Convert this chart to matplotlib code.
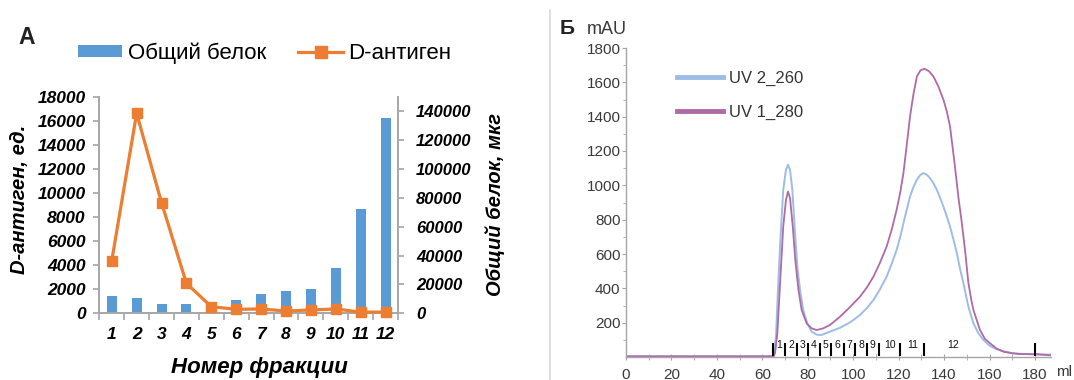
import matplotlib
matplotlib.use("Agg")
import matplotlib.pyplot as plt
from matplotlib.lines import Line2D
from matplotlib.patches import Patch

plt.rcParams["font.family"] = ["Liberation Sans", "DejaVu Sans"]

# ---------------------------------------------------------------------------
# Panel A data: fractions, D-antigen (left axis) and total protein (right axis)
# ---------------------------------------------------------------------------
fractions = [1, 2, 3, 4, 5, 6, 7, 8, 9, 10, 11, 12]
d_antigen = [4370, 16620, 9190, 2490, 550, 330, 360, 190, 280, 360, 100, 100]
total_protein = [12000, 10400, 6450, 6450, 2500, 9400, 13600, 15200, 16800,
                 31600, 72000, 135500]

# ---------------------------------------------------------------------------
# Panel B data: chromatogram (ml, mAU)
# ---------------------------------------------------------------------------
uv260_ml = [0, 64.5, 65.2, 66.0, 67.0, 68.1, 69.2, 70.4, 71.3, 72.2, 73.2, 74.4,
            75.4, 76.6, 78.0, 79.8, 81.7, 83.9, 86.0, 89.8, 94.2, 99.0, 103.0,
            106.0, 108.9, 111.8, 114.7, 117.0, 119.1, 120.7, 122.1, 123.6, 125.0,
            126.5, 128.0, 129.5, 130.9, 132.4, 133.8, 135.3, 136.8, 138.6, 140.4,
            142.6, 144.0, 145.6, 147.0, 148.5, 149.6, 150.7, 152.0, 152.9, 155.0,
            157.3, 160.0, 163.2, 166.5, 170.5, 175.0, 179.3, 186.6]
uv260_mau = [4, 4, 30, 118, 430, 721, 974, 1090, 1120, 1090, 974, 721,
             527, 391, 274, 196, 148, 130, 128, 148, 170, 205, 245,
             285, 332, 395, 468, 545, 624, 700, 780, 860, 935,
             990, 1032, 1060, 1071, 1062, 1042, 1012, 974, 915, 850,
             760, 690, 605, 515, 430, 360, 293, 235, 196, 140,
             99, 66, 45, 32, 21, 18, 16, 14]

uv280_ml = [0, 65.0, 65.6, 66.6, 67.8, 69.2, 70.4, 71.3, 72.2, 73.4, 74.5, 75.9,
            77.3, 79.5, 81.7, 83.9, 86.8, 89.8, 94.2, 98.5, 103.0, 106.0, 108.9,
            111.8, 114.7, 117.0, 119.1, 120.7, 122.1, 123.6, 125.0, 126.5, 128.0,
            129.6, 131.3, 133.3, 135.3, 137.5, 139.7, 141.2, 142.6, 144.5, 146.3,
            147.7, 149.2, 150.7, 152.0, 152.9, 155.8, 158.0, 160.2, 163.0, 166.1,
            170.0, 173.4, 180.8, 186.6]
uv280_mau = [4, 4, 22, 138, 430, 760, 915, 964, 925, 760, 566, 391,
             274, 196, 167, 157, 167, 187, 235, 290, 352, 405, 468,
             550, 643, 745, 857, 960, 1071, 1240, 1401, 1530, 1634,
             1670, 1679, 1665, 1634, 1575, 1499, 1430, 1343, 1140, 930,
             790, 624, 430, 330, 274, 157, 105, 80, 50, 31,
             22, 17, 16, 10]

frac_bounds = [64.6, 70.0, 75.2, 80.3, 85.2, 90.3, 95.8, 100.9, 106.1, 111.2,
               120.7, 131.3, 180.2]
frac_labels = ["1", "2", "3", "4", "5", "6", "7", "8", "9", "10", "11", "12"]
frac_label_ml = [67.3, 72.6, 77.7, 82.7, 87.7, 93.0, 98.3, 103.5, 108.6, 116.0,
                 126.0, 144.0]

blue = "#5B9BD5"
orange = "#ED7D31"
axis_gray = "#A6A6A6"
uv260_color = "#9DBDE6"
uv280_color = "#B06AA6"

W, H = 1074, 380
fig = plt.figure(figsize=(W / 100, H / 100), dpi=100)

# ---------------------------------------------------------------------------
# Panel A
# ---------------------------------------------------------------------------
ax = fig.add_axes([99.3 / W, 1 - 313.3 / H, 298.7 / W, 216.6 / H])
ax2 = ax.twinx()
ax.set_zorder(ax2.get_zorder() + 1)
ax.patch.set_visible(False)

ax2.bar(fractions, total_protein, width=0.4, color=blue, zorder=2)
ax.plot(fractions, d_antigen, color=orange, lw=2.3, marker="s", ms=7.5,
        markeredgecolor=orange, zorder=3, clip_on=False)

ax.set_xlim(0.5, 12.5)
ax.set_ylim(0, 18000)
ax2.set_ylim(0, 150000)
ax.set_yticks(range(0, 18001, 2000))
ax2.set_yticks(range(0, 140001, 20000))
ax.set_xticks(fractions)
ax.set_xticks([f + 0.5 for f in range(0, 13)], minor=True)

for a in (ax, ax2):
    a.spines["top"].set_visible(False)
    for s in ("left", "right", "bottom"):
        a.spines[s].set_color(axis_gray)
        a.spines[s].set_linewidth(1.2)
ax.tick_params(axis="x", which="major", length=0, pad=10)
ax.tick_params(axis="x", which="minor", length=5, color=axis_gray, width=1.2)
ax.tick_params(axis="y", length=4, color=axis_gray, width=1.2, pad=6)
ax2.tick_params(axis="y", length=4, color=axis_gray, width=1.2, pad=9)
for lab in ax.get_xticklabels() + ax.get_yticklabels():
    lab.set_fontweight("bold")
    lab.set_fontstyle("italic")
    lab.set_fontsize(12.5)
for lab in ax2.get_yticklabels():
    lab.set_fontweight("bold")
    lab.set_fontstyle("italic")
    lab.set_fontsize(12)

fig.text(20 / W, 1 - 199 / H, "D-антиген, ед.", rotation=90, ha="center",
         va="center", fontsize=14.5, fontweight="bold", fontstyle="italic")
fig.text(495 / W, 1 - 204 / H, "Общий белок, мкг", rotation=90, ha="center",
         va="center", fontsize=14.5, fontweight="bold", fontstyle="italic")
fig.text(259 / W, 1 - 367 / H, "Номер фракции", ha="center", va="center",
         fontsize=16, fontweight="bold", fontstyle="italic")
fig.text(27 / W, 1 - 38 / H, "А", ha="center", va="center", fontsize=16.5,
         fontweight="bold", color="#222222")

handles = [Patch(facecolor=blue, edgecolor="none"),
           Line2D([], [], color=orange, lw=2.3, marker="s", ms=9)]
fig.legend(handles, ["Общий белок", "D-антиген"], loc="center left",
           bbox_to_anchor=(78 / W, 1 - 53 / H), ncol=2, frameon=False,
           fontsize=16, handlelength=2.0, handleheight=0.45,
           handletextpad=0.25, columnspacing=1.45, borderpad=0,
           borderaxespad=0)

# separator between panels
fig.add_artist(Line2D([550 / W, 550 / W], [0, 1 - 10 / H], color="#D9D9D9",
                      lw=1.2))

# ---------------------------------------------------------------------------
# Panel B
# ---------------------------------------------------------------------------
bx = fig.add_axes([626 / W, 1 - 357 / H, 424.9 / W, 309 / H])
bx.plot(uv260_ml, uv260_mau, color=uv260_color, lw=1.4)
bx.plot(uv280_ml, uv280_mau, color=uv280_color, lw=1.3)

bx.vlines(frac_bounds, 8, 82, color="black", lw=1.5)
for x, t in zip(frac_label_ml, frac_labels):
    bx.text(x, 70, t, ha="center", va="center", fontsize=7.5, color="#111111")

bx.set_xlim(0, 187)
bx.set_ylim(0, 1800)
bx.set_xticks(range(0, 181, 20))
bx.set_xticks(range(0, 186, 10), minor=True)
bx.set_yticks(range(200, 1801, 200))
bx.set_yticks(range(100, 1800, 100), minor=True)
for s in ("top", "right"):
    bx.spines[s].set_visible(False)
for s in ("left", "bottom"):
    bx.spines[s].set_color(axis_gray)
    bx.spines[s].set_linewidth(1.0)
bx.tick_params(axis="both", which="both", color=axis_gray, labelcolor="#3a3a3a",
               labelsize=11)
bx.tick_params(axis="y", which="major", length=3, pad=1)
bx.tick_params(axis="y", which="minor", length=2)
bx.tick_params(axis="x", which="both", direction="inout", length=4, pad=6)

bx.text(193, -88, "ml", ha="center", va="center", fontsize=11, color="#3a3a3a",
        clip_on=False)
fig.text(567 / W, 1 - 29 / H, "Б", ha="center", va="center", fontsize=15,
         fontweight="bold", color="#222222")
fig.text(607 / W, 1 - 30 / H, "mAU", ha="center", va="center", fontsize=13,
         color="#3a3a3a")

bx.legend([Line2D([], [], color=uv260_color, lw=3.5),
           Line2D([], [], color=uv280_color, lw=3.5)],
          ["UV 2_260", "UV 1_280"], loc="center left",
          bbox_to_anchor=(0.12, 0.846), frameon=False, fontsize=12,
          handlelength=2.75, handletextpad=0.35, labelspacing=1.1,
          borderpad=0, borderaxespad=0, labelcolor="#333333")

fig.savefig("out.png", dpi=100)
